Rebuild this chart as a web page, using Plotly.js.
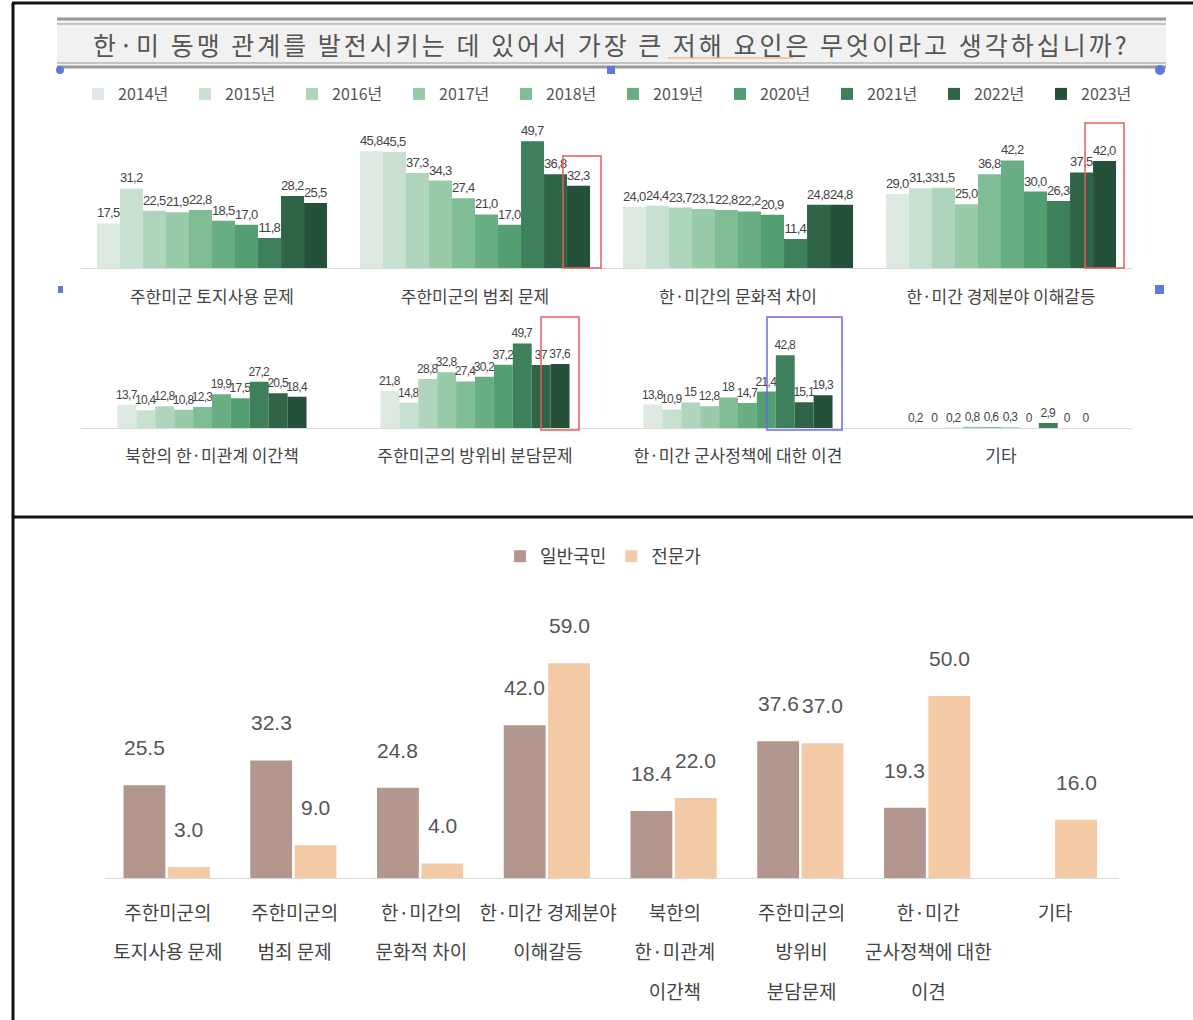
<!DOCTYPE html>
<html><head><meta charset="utf-8">
<script src="https://cdn.plot.ly/plotly-3.0.1.min.js"></script>
<style>
html,body{margin:0;padding:0;background:#fff}#chart{width:1193px;height:1020px}
.bartext{letter-spacing:-0.7px}
</style>
</head><body><div id="chart"></div>
<script>
// ---------- data ----------
const years = ['2014년','2015년','2016년','2017년','2018년','2019년','2020년','2021년','2022년','2023년'];
const topCatsRow1 = ['주한미군 토지사용 문제','주한미군의 범죄 문제','한·미간의 문화적 차이','한·미간 경제분야 이해갈등'];
const topCatsRow2 = ['북한의 한·미관계 이간책','주한미군의 방위비 분담문제','한·미간 군사정책에 대한 이견','기타'];
// values 2014..2023 as printed on the labels
const landUse    = ['17.5','31.2','22.5','21.9','22.8','18.5','17.0','11.8','28.2','25.5'];
const crime      = ['45.8','45.5','37.3','34.3','27.4','21.0','17.0','49.7','36.8','32.3'];
const culture    = ['24.0','24.4','23.7','23.1','22.8','22.2','20.9','11.4','24.8','24.8'];
const economy    = ['29.0','31.3','31.5','25.0','36.8','42.2','30.0','26.3','37.5','42.0'];
const northKorea = ['13.7','10.4','12.8','10.8','12.3','19.9','17.5','27.2','20.5','18.4'];
const costShare  = ['21.8','14.8','28.8','32.8','27.4','30.2','37.2','49.7','37','37.6'];
const military   = ['13.8','10.9','15','12.8','18','14.7','21.4','42.8','15.1','19.3'];
const other      = ['0.2','0','0.2','0.8','0.6','0.3','0','2.9','0','0'];

const bottomSeries = ['일반국민','전문가'];
const bottomCats = ['주한미군의 토지사용 문제','주한미군의 범죄 문제','한·미간의 문화적 차이','한·미간 경제분야 이해갈등','북한의 한·미관계 이간책','주한미군의 방위비 분담문제','한·미간 군사정책에 대한 이견','기타'];
const bottomTickLines = [
  ['주한미군의','토지사용 문제'],
  ['주한미군의','범죄 문제'],
  ['한·미간의','문화적 차이'],
  ['한·미간 경제분야','이해갈등'],
  ['북한의','한·미관계','이간책'],
  ['주한미군의','방위비','분담문제'],
  ['한·미간','군사정책에 대한','이견'],
  ['기타']
];
const publicVals = [25.5, 32.3, 24.8, 42.0, 18.4, 37.6, 19.3, null];
const expertVals = [3.0, 9.0, 4.0, 59.0, 22.0, 37.0, 50.0, 16.0];

// ---------- styles ----------
const yearColors = ['#dee9e2','#c8e0d0','#afd5bc','#99caa9','#80bc95','#68ae82','#539f71','#3e805c','#2f6447','#25503a'];
const bottomColors = ['#b3968e','#f4caa6'];
const W = 1193, H = 1020;
const px = x => x / W, py = y => 1 - y / H;
const kr = 'Noto Sans CJK KR, Noto Sans, sans-serif';
const num = 'Liberation Sans, Arial, sans-serif';

const row1 = [landUse, crime, culture, economy];
const row2 = [northKorea, costShare, military, other];

const traces = [];
const w1 = 0.0875, w2 = 0.0719;
years.forEach((yr, i) => {
  traces.push({
    type: 'bar', name: yr, legendgroup: yr, legend: 'legend',
    x: topCatsRow1, y: row1.map(c => parseFloat(c[i])),
    text: row1.map(c => c[i].replace('.', ',')),
    textposition: 'outside', constraintext: 'none', cliponaxis: false,
    textfont: {family: num, size: 13, color: '#444'},
    marker: {color: yearColors[i]}, width: w1, offset: -5 * w1 + i * w1,
    xaxis: 'x', yaxis: 'y', hoverinfo: 'x+y+name'
  });
  traces.push({
    type: 'bar', name: yr, legendgroup: yr, showlegend: false,
    x: topCatsRow2, y: row2.map(c => parseFloat(c[i])),
    text: row2.map(c => c[i].replace('.', ',')),
    textposition: 'outside', constraintext: 'none', cliponaxis: false,
    textfont: {family: num, size: 12, color: '#444'},
    marker: {color: yearColors[i]}, width: w2, offset: -5 * w2 + i * w2,
    xaxis: 'x2', yaxis: 'y2', hoverinfo: 'x+y+name'
  });
});
const bottomVals = [publicVals, expertVals];
const bOffsets = [-0.35, 0.0], bWidth = 0.33;
bottomSeries.forEach((s, k) => {
  traces.push({
    type: 'bar', name: s, legend: 'legend2',
    x: bottomCats, y: bottomVals[k],
    marker: {color: bottomColors[k]}, width: bWidth, offset: bOffsets[k],
    xaxis: 'x3', yaxis: 'y3', hoverinfo: 'x+y+name'
  });
});

// labels for bottom chart (value annotations placed above bars)
const annotations = [];
bottomSeries.forEach((s, k) => {
  bottomVals[k].forEach((v, j) => {
    if (v === null || v === undefined) return;
    annotations.push({
      xref: 'x3', yref: 'y3', x: bottomCats[j], y: v,
      xshift: (bOffsets[k] + bWidth / 2) * 127, yshift: 24,
      yanchor: 'bottom', showarrow: false, text: v.toFixed(1),
      font: {family: 'Liberation Sans, Arial, sans-serif', size: 21, color: '#555'}
    });
  });
});
annotations.push({
  xref: 'paper', yref: 'paper', x: px(611), y: py(44), xanchor: 'center', yanchor: 'middle', showarrow: false,
  text: '한·미 동맹 관계를 발전시키는 데 있어서 가장 큰 저해 요인은 무엇이라고 생각하십니까?',
  font: {family: kr, size: 25, color: '#555'}
});

// decorative shapes (frames, title box, highlight boxes, handles)
const shapes = [
  {type:'rect', xref:'paper', yref:'paper', x0:px(57), x1:px(1166), y0:py(66), y1:py(20), fillcolor:'#f1f1f1', line:{width:0}, layer:'below'},
  {type:'line', xref:'paper', yref:'paper', x0:px(57), x1:px(1166), y0:py(19), y1:py(19), line:{color:'#9a9a9a', width:3}},
  {type:'line', xref:'paper', yref:'paper', x0:px(57), x1:px(1166), y0:py(24), y1:py(24), line:{color:'#c4c4c4', width:2}},
  {type:'line', xref:'paper', yref:'paper', x0:px(57), x1:px(1166), y0:py(63), y1:py(63), line:{color:'#c4c4c4', width:2}},
  {type:'line', xref:'paper', yref:'paper', x0:px(57), x1:px(1166), y0:py(67), y1:py(67), line:{color:'#9a9a9a', width:3}},
  {type:'line', xref:'paper', yref:'paper', x0:px(668), x1:px(793), y0:py(58), y1:py(58), line:{color:'#f2b98a', width:1.5}},
  {type:'line', xref:'paper', yref:'paper', x0:px(12), x1:px(1193), y0:py(3), y1:py(3), line:{color:'#111', width:3}},
  {type:'line', xref:'paper', yref:'paper', x0:px(13), x1:px(13), y0:py(3), y1:py(1020), line:{color:'#111', width:3}},
  {type:'line', xref:'paper', yref:'paper', x0:px(13), x1:px(1193), y0:py(517), y1:py(517), line:{color:'#111', width:3}},
  {type:'rect', xref:'paper', yref:'paper', x0:px(563), x1:px(601), y0:py(268), y1:py(156), line:{color:'#e85c5c', width:1.5}},
  {type:'rect', xref:'paper', yref:'paper', x0:px(1085), x1:px(1124), y0:py(268), y1:py(123), line:{color:'#e85c5c', width:1.5}},
  {type:'rect', xref:'paper', yref:'paper', x0:px(541), x1:px(579), y0:py(430), y1:py(317), line:{color:'#e85c5c', width:1.5}},
  {type:'rect', xref:'paper', yref:'paper', x0:px(767), x1:px(842), y0:py(430), y1:py(317), line:{color:'#6a6ae8', width:1.5}},
  {type:'circle', xref:'paper', yref:'paper', x0:px(56), x1:px(64), y0:py(74), y1:py(66), fillcolor:'#5b7bd5', line:{width:0}},
  {type:'rect', xref:'paper', yref:'paper', x0:px(607), x1:px(615), y0:py(74), y1:py(66), fillcolor:'#5b7bd5', line:{width:0}},
  {type:'circle', xref:'paper', yref:'paper', x0:px(1155), x1:px(1165), y0:py(75), y1:py(65), fillcolor:'#5b7bd5', line:{width:0}},
  {type:'rect', xref:'paper', yref:'paper', x0:px(58), x1:px(63), y0:py(293), y1:py(286), fillcolor:'#5b7bd5', line:{width:0}},
  {type:'rect', xref:'paper', yref:'paper', x0:px(1155), x1:px(1164), y0:py(294), y1:py(285), fillcolor:'#5b7bd5', line:{width:0}}
];

const xTop = {
  type:'category', showgrid:false, zeroline:false, showline:true, linecolor:'#d9d9d9', linewidth:1,
  ticks:'outside', ticklen:14, tickcolor:'rgba(0,0,0,0)',
  tickfont:{family:kr, size:17, color:'#444'}, fixedrange:true
};
const yHidden = {visible:false, showgrid:false, zeroline:false, fixedrange:true};
const xDomTop = [px(80.5), px(1132.5)];
const xDomBot = [px(104.5), px(1118.5)];
const yDomBot = [py(878), py(640)];

// tick font is large so the line pitch is ~40px; each line's glyphs are drawn at 19px
const bottomTickText = bottomTickLines.map(lines =>
  lines.map(l => '<span style="font-size:19px">' + l + '</span>').join('<br>'));

const layout = {
  width: W, height: H, margin:{l:0, r:0, t:0, b:0},
  paper_bgcolor:'#fff', plot_bgcolor:'rgba(0,0,0,0)',
  barmode:'overlay', showlegend:true,
  font:{family:kr, color:'#444'},
  xaxis: Object.assign({}, xTop, {domain:xDomTop, anchor:'y'}),
  yaxis: Object.assign({}, yHidden, {domain:[py(268), py(100)], range:[0, 65.9], anchor:'x'}),
  xaxis2: Object.assign({}, xTop, {domain:xDomTop, anchor:'y2', ticklen:13}),
  yaxis2: Object.assign({}, yHidden, {domain:[py(428), py(320)], range:[0, 63.5], anchor:'x2'}),
  xaxis3: {
    domain:xDomBot, anchor:'y3', type:'category', showgrid:false, zeroline:false,
    showline:true, linecolor:'#d9d9d9', linewidth:1,
    tickvals: bottomCats, ticktext: bottomTickText,
    ticks:'outside', ticklen:4, tickcolor:'rgba(0,0,0,0)',
    tickfont:{family:kr, size:30.5, color:'#444'}, fixedrange:true
  },
  yaxis3: Object.assign({}, yHidden, {domain:yDomBot, range:[0, 65.4], anchor:'x3'}),
  legend: {
    orientation:'h', x:px(78), xanchor:'left', y:py(77), yanchor:'top',
    entrywidth:62, entrywidthmode:'pixels', traceorder:'normal',
    font:{family:kr, size:16, color:'#555'}, bgcolor:'rgba(0,0,0,0)', itemclick:false, itemdoubleclick:false
  },
  legend2: {
    orientation:'h', x:px(500), xanchor:'left', y:py(538), yanchor:'top',
    font:{family:kr, size:18, color:'#444'}, bgcolor:'rgba(0,0,0,0)', itemclick:false, itemdoubleclick:false
  },
  annotations: annotations,
  shapes: shapes
};

Plotly.newPlot('chart', traces, layout, {displayModeBar:false, staticPlot:true}).then(gd => {
  gd.querySelectorAll('.annotation-text').forEach(t => {
    if (t.textContent.indexOf('동맹') >= 0) t.style.letterSpacing = '3px';
  });
});
</script>
</body></html>
